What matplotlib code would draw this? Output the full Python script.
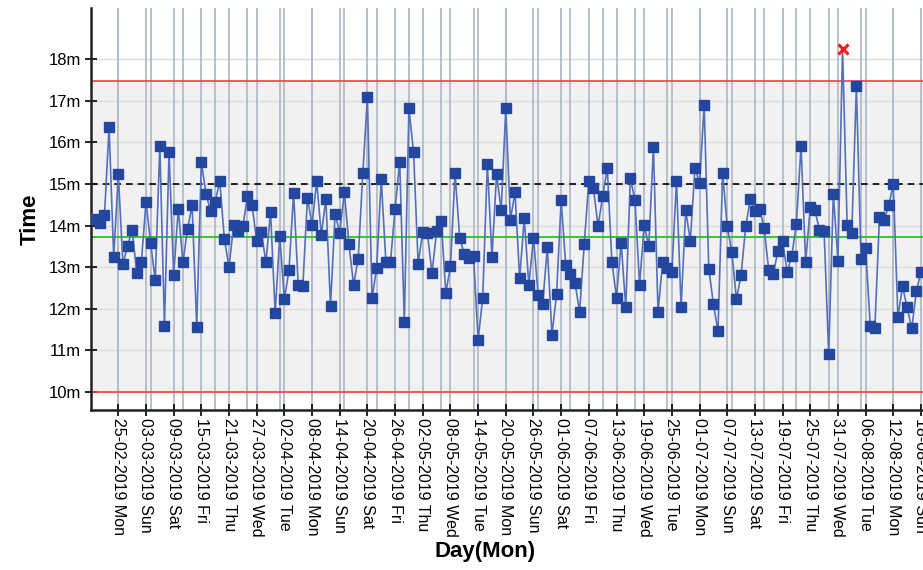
import numpy as np
import matplotlib
matplotlib.use("Agg")
import matplotlib.pyplot as plt
import matplotlib.dates as mdates
from matplotlib.ticker import FixedLocator, FuncFormatter

plt.rcParams['font.family'] = ['Liberation Sans', 'DejaVu Sans']

# daily durations in minutes
start_day = np.datetime64('2019-02-20')
minutes = [
    14.17, 14.06, 14.25, 16.36, 13.25, 15.23, 13.08, 13.51, 13.90, 12.86,
    13.12, 14.57, 13.59, 12.69, 15.92, 11.60, 15.77, 12.81, 14.41, 13.12,
    13.91, 14.49, 11.57, 15.53, 14.77, 14.34, 14.58, 15.07, 13.67, 13.01,
    14.01, 13.87, 13.98, 14.71, 14.49, 13.63, 13.85, 13.12, 14.33, 11.89,
    13.75, 12.23, 12.93, 14.79, 12.57,
    12.54, 14.67, 14.02, 15.07, 13.78, 14.64, 12.07, 14.29, 13.83, 14.80,
    13.55, 12.58, 13.20, 15.26, 17.09, 12.25, 12.98, 15.11, 13.13, 13.13,
    14.41, 15.53, 11.69, 16.82, 15.77, 13.08, 13.85, 13.83, 12.86, 13.87,
    14.10, 12.39, 13.02, 15.26, 13.71, 13.32, 13.22, 13.28, 11.26, 12.27,
    15.49, 13.24, 15.23, 14.38, 16.82,
    14.14, 14.80, 12.73, 14.18, 12.58, 13.71, 12.34, 12.12, 13.48, 11.38,
    12.35, 14.61, 13.05, 12.85, 12.62, 11.93, 13.55, 15.07, 14.90, 13.98,
    14.71, 15.38, 13.12, 12.27, 13.59, 12.04, 15.14, 14.61, 12.58, 14.01,
    13.51, 15.89, 11.93, 13.12, 12.98, 12.89, 15.07, 12.04, 14.37, 13.63,
    15.38, 15.03, 16.90, 12.97, 12.12, 11.46,
    15.27, 13.98, 13.36, 12.23, 12.81, 13.98, 14.63, 14.34, 14.41, 13.94,
    12.93, 12.85, 13.40, 13.62, 12.89, 13.28, 14.05, 15.92, 13.12, 14.45,
    14.37, 13.90, 13.86, 10.91, 14.76, 13.16, 18.24, 14.02, 13.83, 17.35,
    13.20, 13.47, 11.60, 11.53, 14.21, 14.13, 14.49, 14.99, 11.80, 12.54,
    12.04, 11.53, 12.42, 12.89,
]

upper_limit = 17.47
lower_limit = 10.0
mean_line = 13.73
target_line = 15.0
y_ticks = [10, 11, 12, 13, 14, 15, 16, 17, 18]

first_tick = np.datetime64('2019-02-25')
last_tick = np.datetime64('2019-08-18')
first_monday = np.datetime64('2019-02-18')

days = start_day + np.arange(len(minutes)).astype('timedelta64[D]')
x = mdates.date2num(days)
y = np.array(minutes)

fig = plt.figure(figsize=(9.23, 5.70), dpi=100)
ax = fig.add_axes([91 / 923, 1 - 410 / 570, 1 - 91 / 923, 402 / 570])

x0 = mdates.date2num(first_tick)
x1 = mdates.date2num(last_tick)
ax.set_xlim(x0 - 5.92, x1 + 0.44)
ax.set_ylim(9.57, 19.23)

# control band
ax.axhspan(lower_limit, upper_limit, color='#f1f1f1', zorder=0)
for v in y_ticks:
    ax.axhline(v, color='#dcdcdc', lw=1.0, zorder=1)

# tick days and week starts (Mondays)
tick_pos = np.arange(x0, x1 + 1, 6)
mondays = np.arange(mdates.date2num(first_monday), x1 + 3, 7)
for v in np.concatenate([tick_pos, mondays]):
    ax.axvline(v, color='#b3bac8', lw=1.3, zorder=1)

ax.axhline(upper_limit, color='#f04040', lw=1.2, zorder=2)
ax.axhline(lower_limit, color='#f04040', lw=1.2, zorder=2)
ax.axhline(mean_line, color='#1ec81e', lw=1.3, zorder=2)
ax.axhline(target_line, color='black', lw=1.2, ls=(0, (4, 3)), zorder=2)

ax.plot(x, y, color='#5470b8', lw=1.2, zorder=3)
ok = y <= upper_limit
ax.plot(x[ok], y[ok], ls='none', marker='s', ms=6.8, color='#23479e', zorder=4)
ax.plot(x[~ok], y[~ok], ls='none', marker='x', ms=7, mew=2.2, color='#f01818', zorder=5)

ax.yaxis.set_major_locator(FixedLocator(y_ticks))
ax.yaxis.set_major_formatter(FuncFormatter(lambda v, p: f"{int(v)}m"))
ax.xaxis.set_major_locator(FixedLocator(tick_pos))
ax.xaxis.set_major_formatter(mdates.DateFormatter('%d-%m-%Y %a'))
ax.tick_params(axis='x', rotation=270, labelsize=11.5, direction='inout', length=8, width=1.2, pad=2)
ax.tick_params(axis='y', labelsize=12, direction='inout', length=8, width=1.2, pad=3)
for lbl in ax.get_xticklabels():
    lbl.set_va('top')
    lbl.set_ha('center')

for side in ['top', 'right']:
    ax.spines[side].set_visible(False)
for side in ['left', 'bottom']:
    ax.spines[side].set_linewidth(1.8)
    ax.spines[side].set_color('#222222')

ax.set_ylabel('Time', fontsize=16, fontweight='bold')
ax.set_xlabel('Day(Mon)', fontsize=16, fontweight='bold')
ax.yaxis.set_label_coords(-0.06, 0.475)
ax.xaxis.set_label_coords(0.4736, -0.326)

fig.savefig('out.png', dpi=100)
